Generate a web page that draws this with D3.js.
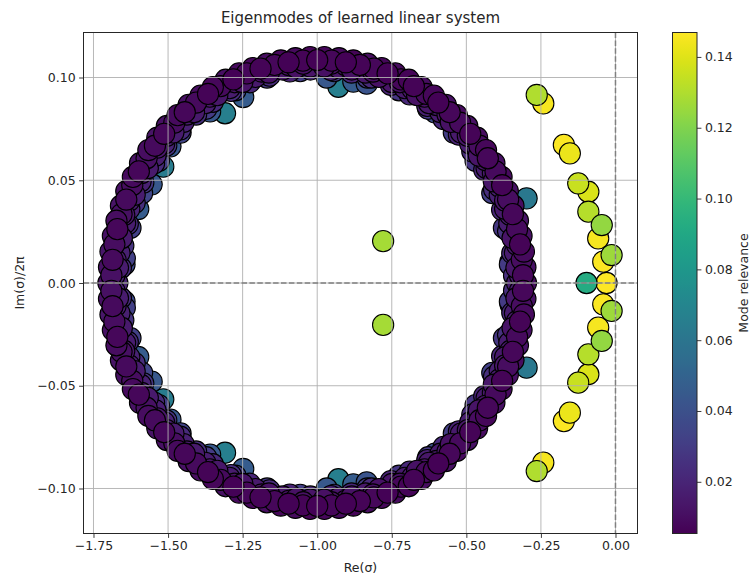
<!DOCTYPE html>
<html>
<head>
<meta charset="utf-8">
<script src="https://cdn.jsdelivr.net/npm/d3@7"></script>
<style>
  html, body { margin: 0; padding: 0; background: #ffffff; }
  svg { display: block; }
  text { font-family: "DejaVu Sans", sans-serif; fill: #262626; }
</style>
</head>
<body>
<svg id="chart" width="754" height="576"></svg>
<script>
// ---- eigenvalues: [Re(σ), Im(σ)/2π, mode relevance] ----

// outermost layer of the ring of weakly relevant modes
const ringOuterUpper = [
  [-0.300, 0.0000, 0.010], [-0.302, 0.0077, 0.012], [-0.307, 0.0153, 0.009], [-0.315, 0.0229, 0.011],
  [-0.327, 0.0303, 0.013], [-0.342, 0.0376, 0.010], [-0.361, 0.0447, 0.012], [-0.382, 0.0516, 0.009],
  [-0.406, 0.0583, 0.011], [-0.434, 0.0647, 0.008], [-0.464, 0.0707, 0.010], [-0.497, 0.0764, 0.012],
  [-0.532, 0.0817, 0.009], [-0.569, 0.0867, 0.011], [-0.609, 0.0912, 0.008], [-0.650, 0.0953, 0.010],
  [-0.693, 0.0989, 0.007], [-0.738, 0.1020, 0.009], [-0.784, 0.1046, 0.008], [-0.831, 0.1067, 0.010],
  [-0.879, 0.1083, 0.007], [-0.927, 0.1094, 0.009], [-0.976, 0.1099, 0.008], [-1.024, 0.1099, 0.007],
  [-1.073, 0.1094, 0.009], [-1.122, 0.1083, 0.008], [-1.169, 0.1067, 0.010], [-1.216, 0.1046, 0.008],
  [-1.262, 0.1020, 0.009], [-1.307, 0.0989, 0.011], [-1.350, 0.0953, 0.008], [-1.391, 0.0912, 0.010],
  [-1.431, 0.0867, 0.012], [-1.468, 0.0817, 0.009], [-1.504, 0.0764, 0.011], [-1.536, 0.0707, 0.013],
  [-1.566, 0.0647, 0.010], [-1.594, 0.0583, 0.012], [-1.618, 0.0516, 0.009], [-1.640, 0.0447, 0.011],
  [-1.658, 0.0376, 0.013], [-1.673, 0.0303, 0.010], [-1.685, 0.0229, 0.012], [-1.693, 0.0153, 0.014],
  [-1.698, 0.0077, 0.011], [-1.700, 0.0000, 0.012]
];
const ringOuterLower = [
  [-0.302, -0.0077, 0.012], [-0.307, -0.0153, 0.009], [-0.315, -0.0229, 0.011],
  [-0.327, -0.0303, 0.013], [-0.342, -0.0376, 0.010], [-0.361, -0.0447, 0.012], [-0.382, -0.0516, 0.009],
  [-0.406, -0.0583, 0.011], [-0.434, -0.0647, 0.008], [-0.464, -0.0707, 0.010], [-0.497, -0.0764, 0.012],
  [-0.532, -0.0817, 0.009], [-0.569, -0.0867, 0.011], [-0.609, -0.0912, 0.008], [-0.650, -0.0953, 0.010],
  [-0.693, -0.0989, 0.007], [-0.738, -0.1020, 0.009], [-0.784, -0.1046, 0.008], [-0.831, -0.1067, 0.010],
  [-0.879, -0.1083, 0.007], [-0.927, -0.1094, 0.009], [-0.976, -0.1099, 0.008], [-1.024, -0.1099, 0.007],
  [-1.073, -0.1094, 0.009], [-1.122, -0.1083, 0.008], [-1.169, -0.1067, 0.010], [-1.216, -0.1046, 0.008],
  [-1.262, -0.1020, 0.009], [-1.307, -0.0989, 0.011], [-1.350, -0.0953, 0.008], [-1.391, -0.0912, 0.010],
  [-1.431, -0.0867, 0.012], [-1.468, -0.0817, 0.009], [-1.504, -0.0764, 0.011], [-1.536, -0.0707, 0.013],
  [-1.566, -0.0647, 0.010], [-1.594, -0.0583, 0.012], [-1.618, -0.0516, 0.009], [-1.640, -0.0447, 0.011],
  [-1.658, -0.0376, 0.013], [-1.673, -0.0303, 0.010], [-1.685, -0.0229, 0.012], [-1.693, -0.0153, 0.014],
  [-1.698, -0.0077, 0.011]
];

// second layer, just inside the outer edge
const ringOuter2Upper = [
  [-0.310, 0.0038, 0.008], [-0.314, 0.0113, 0.010], [-0.320, 0.0188, 0.007], [-0.330, 0.0262, 0.009],
  [-0.344, 0.0335, 0.008], [-0.360, 0.0406, 0.010], [-0.380, 0.0476, 0.007], [-0.402, 0.0543, 0.009],
  [-0.428, 0.0607, 0.008], [-0.456, 0.0668, 0.010], [-0.487, 0.0726, 0.007], [-0.521, 0.0780, 0.009],
  [-0.556, 0.0831, 0.008], [-0.594, 0.0878, 0.006], [-0.634, 0.0920, 0.009], [-0.676, 0.0958, 0.007],
  [-0.719, 0.0991, 0.008], [-0.764, 0.1020, 0.006], [-0.810, 0.1043, 0.008], [-0.857, 0.1061, 0.007],
  [-0.904, 0.1074, 0.006], [-0.952, 0.1082, 0.008], [-1.000, 0.1085, 0.006], [-1.048, 0.1082, 0.007],
  [-1.096, 0.1074, 0.006], [-1.143, 0.1061, 0.008], [-1.190, 0.1043, 0.007], [-1.236, 0.1020, 0.008],
  [-1.281, 0.0991, 0.006], [-1.324, 0.0958, 0.009], [-1.366, 0.0920, 0.007], [-1.406, 0.0878, 0.009],
  [-1.444, 0.0831, 0.008], [-1.479, 0.0780, 0.010], [-1.513, 0.0726, 0.008], [-1.544, 0.0668, 0.009],
  [-1.572, 0.0607, 0.011], [-1.598, 0.0543, 0.008], [-1.620, 0.0476, 0.010], [-1.640, 0.0406, 0.009],
  [-1.656, 0.0335, 0.011], [-1.670, 0.0262, 0.008], [-1.680, 0.0188, 0.010], [-1.686, 0.0113, 0.009],
  [-1.690, 0.0038, 0.011]
];
const ringOuter2Lower = [
  [-0.310, -0.0038, 0.008], [-0.314, -0.0113, 0.010], [-0.320, -0.0188, 0.007], [-0.330, -0.0262, 0.009],
  [-0.344, -0.0335, 0.008], [-0.360, -0.0406, 0.010], [-0.380, -0.0476, 0.007], [-0.402, -0.0543, 0.009],
  [-0.428, -0.0607, 0.008], [-0.456, -0.0668, 0.010], [-0.487, -0.0726, 0.007], [-0.521, -0.0780, 0.009],
  [-0.556, -0.0831, 0.008], [-0.594, -0.0878, 0.006], [-0.634, -0.0920, 0.009], [-0.676, -0.0958, 0.007],
  [-0.719, -0.0991, 0.008], [-0.764, -0.1020, 0.006], [-0.810, -0.1043, 0.008], [-0.857, -0.1061, 0.007],
  [-0.904, -0.1074, 0.006], [-0.952, -0.1082, 0.008], [-1.000, -0.1085, 0.006], [-1.048, -0.1082, 0.007],
  [-1.096, -0.1074, 0.006], [-1.143, -0.1061, 0.008], [-1.190, -0.1043, 0.007], [-1.236, -0.1020, 0.008],
  [-1.281, -0.0991, 0.006], [-1.324, -0.0958, 0.009], [-1.366, -0.0920, 0.007], [-1.406, -0.0878, 0.009],
  [-1.444, -0.0831, 0.008], [-1.479, -0.0780, 0.010], [-1.513, -0.0726, 0.008], [-1.544, -0.0668, 0.009],
  [-1.572, -0.0607, 0.011], [-1.598, -0.0543, 0.008], [-1.620, -0.0476, 0.010], [-1.640, -0.0406, 0.009],
  [-1.656, -0.0335, 0.011], [-1.670, -0.0262, 0.008], [-1.680, -0.0188, 0.010], [-1.686, -0.0113, 0.009],
  [-1.690, -0.0038, 0.011]
];

// middle layer of the ring
const ringMidUpper = [
  [-0.320, 0.0037, 0.016], [-0.324, 0.0112, 0.018], [-0.330, 0.0186, 0.015], [-0.340, 0.0259, 0.019],
  [-0.353, 0.0331, 0.016], [-0.370, 0.0401, 0.014], [-0.389, 0.0469, 0.017], [-0.411, 0.0535, 0.015],
  [-0.436, 0.0598, 0.013], [-0.464, 0.0659, 0.016], [-0.495, 0.0716, 0.014], [-0.528, 0.0770, 0.017],
  [-0.563, 0.0820, 0.013], [-0.600, 0.0866, 0.015], [-0.640, 0.0907, 0.012], [-0.681, 0.0945, 0.014],
  [-0.723, 0.0977, 0.012], [-0.767, 0.1005, 0.013], [-0.813, 0.1029, 0.011], [-0.859, 0.1047, 0.014],
  [-0.905, 0.1060, 0.012], [-0.953, 0.1067, 0.011], [-1.000, 0.1070, 0.013], [-1.047, 0.1067, 0.011],
  [-1.095, 0.1060, 0.012], [-1.141, 0.1047, 0.014], [-1.187, 0.1029, 0.012], [-1.233, 0.1005, 0.015],
  [-1.277, 0.0977, 0.013], [-1.319, 0.0945, 0.016], [-1.360, 0.0907, 0.014], [-1.400, 0.0866, 0.017],
  [-1.437, 0.0820, 0.015], [-1.472, 0.0770, 0.018], [-1.505, 0.0716, 0.016], [-1.536, 0.0659, 0.014],
  [-1.564, 0.0598, 0.017], [-1.589, 0.0535, 0.015], [-1.611, 0.0469, 0.018], [-1.630, 0.0401, 0.016],
  [-1.647, 0.0331, 0.014], [-1.660, 0.0259, 0.017], [-1.670, 0.0186, 0.019], [-1.676, 0.0112, 0.016],
  [-1.680, 0.0037, 0.018]
];
const ringMidLower = [
  [-0.320, -0.0037, 0.016], [-0.324, -0.0112, 0.018], [-0.330, -0.0186, 0.015], [-0.340, -0.0259, 0.019],
  [-0.353, -0.0331, 0.016], [-0.370, -0.0401, 0.014], [-0.389, -0.0469, 0.017], [-0.411, -0.0535, 0.015],
  [-0.436, -0.0598, 0.013], [-0.464, -0.0659, 0.016], [-0.495, -0.0716, 0.014], [-0.528, -0.0770, 0.017],
  [-0.563, -0.0820, 0.013], [-0.600, -0.0866, 0.015], [-0.640, -0.0907, 0.012], [-0.681, -0.0945, 0.014],
  [-0.723, -0.0977, 0.012], [-0.767, -0.1005, 0.013], [-0.813, -0.1029, 0.011], [-0.859, -0.1047, 0.014],
  [-0.905, -0.1060, 0.012], [-0.953, -0.1067, 0.011], [-1.000, -0.1070, 0.013], [-1.047, -0.1067, 0.011],
  [-1.095, -0.1060, 0.012], [-1.141, -0.1047, 0.014], [-1.187, -0.1029, 0.012], [-1.233, -0.1005, 0.015],
  [-1.277, -0.0977, 0.013], [-1.319, -0.0945, 0.016], [-1.360, -0.0907, 0.014], [-1.400, -0.0866, 0.017],
  [-1.437, -0.0820, 0.015], [-1.472, -0.0770, 0.018], [-1.505, -0.0716, 0.016], [-1.536, -0.0659, 0.014],
  [-1.564, -0.0598, 0.017], [-1.589, -0.0535, 0.015], [-1.611, -0.0469, 0.018], [-1.630, -0.0401, 0.016],
  [-1.647, -0.0331, 0.014], [-1.660, -0.0259, 0.017], [-1.670, -0.0186, 0.019], [-1.676, -0.0112, 0.016],
  [-1.680, -0.0037, 0.018]
];

// layer between the middle and the inner edge
const ringMid2Upper = [
  [-0.330, 0.0000, 0.017], [-0.332, 0.0074, 0.014], [-0.337, 0.0147, 0.016], [-0.345, 0.0219, 0.013],
  [-0.356, 0.0291, 0.017], [-0.370, 0.0361, 0.015], [-0.388, 0.0429, 0.018], [-0.408, 0.0495, 0.014],
  [-0.432, 0.0559, 0.016], [-0.458, 0.0620, 0.013], [-0.487, 0.0678, 0.017], [-0.518, 0.0733, 0.015],
  [-0.552, 0.0784, 0.012], [-0.587, 0.0831, 0.016], [-0.625, 0.0875, 0.014], [-0.665, 0.0914, 0.012],
  [-0.706, 0.0948, 0.015], [-0.749, 0.0978, 0.013], [-0.793, 0.1003, 0.012], [-0.838, 0.1024, 0.014],
  [-0.884, 0.1039, 0.012], [-0.930, 0.1049, 0.013], [-0.977, 0.1054, 0.011], [-1.023, 0.1054, 0.013],
  [-1.070, 0.1049, 0.012], [-1.116, 0.1039, 0.014], [-1.162, 0.1024, 0.012], [-1.207, 0.1003, 0.015],
  [-1.251, 0.0978, 0.013], [-1.294, 0.0948, 0.016], [-1.335, 0.0914, 0.014], [-1.375, 0.0875, 0.017],
  [-1.413, 0.0831, 0.015], [-1.448, 0.0784, 0.018], [-1.482, 0.0733, 0.016], [-1.513, 0.0678, 0.019],
  [-1.542, 0.0620, 0.017], [-1.568, 0.0559, 0.015], [-1.592, 0.0495, 0.018], [-1.612, 0.0429, 0.016],
  [-1.630, 0.0361, 0.019], [-1.644, 0.0291, 0.017], [-1.655, 0.0219, 0.015], [-1.663, 0.0147, 0.018],
  [-1.668, 0.0074, 0.016], [-1.670, 0.0000, 0.019]
];
const ringMid2Lower = [
  [-0.332, -0.0074, 0.014], [-0.337, -0.0147, 0.016], [-0.345, -0.0219, 0.013],
  [-0.356, -0.0291, 0.017], [-0.370, -0.0361, 0.015], [-0.388, -0.0429, 0.018], [-0.408, -0.0495, 0.014],
  [-0.432, -0.0559, 0.016], [-0.458, -0.0620, 0.013], [-0.487, -0.0678, 0.017], [-0.518, -0.0733, 0.015],
  [-0.552, -0.0784, 0.012], [-0.587, -0.0831, 0.016], [-0.625, -0.0875, 0.014], [-0.665, -0.0914, 0.012],
  [-0.706, -0.0948, 0.015], [-0.749, -0.0978, 0.013], [-0.793, -0.1003, 0.012], [-0.838, -0.1024, 0.014],
  [-0.884, -0.1039, 0.012], [-0.930, -0.1049, 0.013], [-0.977, -0.1054, 0.011], [-1.023, -0.1054, 0.013],
  [-1.070, -0.1049, 0.012], [-1.116, -0.1039, 0.014], [-1.162, -0.1024, 0.012], [-1.207, -0.1003, 0.015],
  [-1.251, -0.0978, 0.013], [-1.294, -0.0948, 0.016], [-1.335, -0.0914, 0.014], [-1.375, -0.0875, 0.017],
  [-1.413, -0.0831, 0.015], [-1.448, -0.0784, 0.018], [-1.482, -0.0733, 0.016], [-1.513, -0.0678, 0.019],
  [-1.542, -0.0620, 0.017], [-1.568, -0.0559, 0.015], [-1.592, -0.0495, 0.018], [-1.612, -0.0429, 0.016],
  [-1.630, -0.0361, 0.019], [-1.644, -0.0291, 0.017], [-1.655, -0.0219, 0.015], [-1.663, -0.0147, 0.018],
  [-1.668, -0.0074, 0.016]
];

// inner layer of the ring
const ringInnerUpper = [
  [-0.340, 0.0036, 0.024], [-0.346, 0.0145, 0.022], [-0.360, 0.0252, 0.026], [-0.380, 0.0356, 0.021],
  [-0.407, 0.0456, 0.024], [-0.440, 0.0551, 0.020], [-0.480, 0.0640, 0.023], [-0.525, 0.0722, 0.019],
  [-0.576, 0.0797, 0.022], [-0.631, 0.0862, 0.018], [-0.690, 0.0918, 0.021], [-0.753, 0.0964, 0.019],
  [-0.818, 0.1000, 0.022], [-0.885, 0.1024, 0.020], [-0.954, 0.1037, 0.018], [-1.023, 0.1039, 0.021],
  [-1.092, 0.1030, 0.019], [-1.160, 0.1009, 0.023], [-1.226, 0.0977, 0.020], [-1.289, 0.0935, 0.024],
  [-1.350, 0.0882, 0.021], [-1.406, 0.0820, 0.025], [-1.459, 0.0748, 0.022], [-1.506, 0.0669, 0.026],
  [-1.547, 0.0582, 0.023], [-1.583, 0.0488, 0.027], [-1.612, 0.0390, 0.024], [-1.635, 0.0287, 0.022],
  [-1.650, 0.0181, 0.026], [-1.658, 0.0073, 0.023]
];
const ringInnerLower = [
  [-0.340, -0.0036, 0.024], [-0.346, -0.0145, 0.022], [-0.360, -0.0252, 0.026], [-0.380, -0.0356, 0.021],
  [-0.407, -0.0456, 0.024], [-0.440, -0.0551, 0.020], [-0.480, -0.0640, 0.023], [-0.525, -0.0722, 0.019],
  [-0.576, -0.0797, 0.022], [-0.631, -0.0862, 0.018], [-0.690, -0.0918, 0.021], [-0.753, -0.0964, 0.019],
  [-0.818, -0.1000, 0.022], [-0.885, -0.1024, 0.020], [-0.954, -0.1037, 0.018], [-1.023, -0.1039, 0.021],
  [-1.092, -0.1030, 0.019], [-1.160, -0.1009, 0.023], [-1.226, -0.0977, 0.020], [-1.289, -0.0935, 0.024],
  [-1.350, -0.0882, 0.021], [-1.406, -0.0820, 0.025], [-1.459, -0.0748, 0.022], [-1.506, -0.0669, 0.026],
  [-1.547, -0.0582, 0.023], [-1.583, -0.0488, 0.027], [-1.612, -0.0390, 0.024], [-1.635, -0.0287, 0.022],
  [-1.650, -0.0181, 0.026], [-1.658, -0.0073, 0.023]
];

// innermost edge of the ring
const ringEdgeUpper = [
  [-0.354, 0.0090, 0.030], [-0.374, 0.0268, 0.028], [-0.413, 0.0437, 0.032], [-0.469, 0.0594, 0.027],
  [-0.542, 0.0732, 0.031], [-0.628, 0.0848, 0.029], [-0.726, 0.0938, 0.027], [-0.832, 0.1000, 0.030],
  [-0.943, 0.1031, 0.028], [-1.057, 0.1031, 0.031], [-1.168, 0.1000, 0.029], [-1.274, 0.0938, 0.033],
  [-1.372, 0.0848, 0.030], [-1.458, 0.0732, 0.034], [-1.531, 0.0594, 0.031], [-1.587, 0.0437, 0.035],
  [-1.626, 0.0268, 0.032], [-1.646, 0.0090, 0.036]
];
const ringEdgeLower = [
  [-0.354, -0.0090, 0.030], [-0.374, -0.0268, 0.028], [-0.413, -0.0437, 0.032], [-0.469, -0.0594, 0.027],
  [-0.542, -0.0732, 0.031], [-0.628, -0.0848, 0.029], [-0.726, -0.0938, 0.027], [-0.832, -0.1000, 0.030],
  [-0.943, -0.1031, 0.028], [-1.057, -0.1031, 0.031], [-1.168, -0.1000, 0.029], [-1.274, -0.0938, 0.033],
  [-1.372, -0.0848, 0.030], [-1.458, -0.0732, 0.034], [-1.531, -0.0594, 0.031], [-1.587, -0.0437, 0.035],
  [-1.626, -0.0268, 0.032], [-1.646, -0.0090, 0.036]
];

// moderately relevant modes sitting just inside the ring
const ringBlueModes = [
  [-1.309, 0.0826, 0.066], [-1.359, 0.0835, 0.044], [-1.248, 0.0905, 0.046], [-0.968, 0.1000, 0.044],
  [-0.929, 0.0955, 0.066], [-0.879, 0.0980, 0.046], [-0.834, 0.0970, 0.042], [-1.516, 0.0566, 0.064],
  [-1.492, 0.0665, 0.044], [-1.555, 0.0480, 0.044], [-1.600, 0.0360, 0.046], [-0.298, 0.0412, 0.062],
  [-0.352, 0.0104, 0.040], [-0.605, 0.0830, 0.040], [-1.645, 0.0120, 0.032],
  [-1.309, -0.0826, 0.066], [-1.359, -0.0835, 0.044], [-1.248, -0.0905, 0.046], [-0.968, -0.1000, 0.044],
  [-0.929, -0.0955, 0.066], [-0.879, -0.0980, 0.046], [-0.834, -0.0970, 0.042], [-1.516, -0.0566, 0.064],
  [-1.492, -0.0665, 0.044], [-1.555, -0.0480, 0.044], [-1.600, -0.0360, 0.046], [-0.298, -0.0412, 0.062],
  [-0.352, -0.0104, 0.040], [-0.605, -0.0830, 0.040], [-1.645, -0.0120, 0.032]
];

// isolated oscillatory pair inside the ring
const innerPair = [
  [-0.779, 0.0204, 0.128], [-0.779, -0.0204, 0.128]
];

// fast, highly relevant modes near the imaginary axis
const nearAxisModes = [
  [-0.264, 0.0915, 0.130], [-0.242, 0.0874, 0.145], [-0.173, 0.0672, 0.146], [-0.153, 0.0631, 0.143],
  [-0.125, 0.0485, 0.135], [-0.091, 0.0444, 0.139], [-0.091, 0.0347, 0.131], [-0.046, 0.0282, 0.124],
  [-0.058, 0.0217, 0.145], [-0.013, 0.0136, 0.126], [-0.041, 0.0104, 0.146],
  [-0.097, 0.0000, 0.092], [-0.030, 0.0000, 0.147],
  [-0.264, -0.0915, 0.130], [-0.242, -0.0874, 0.145], [-0.173, -0.0672, 0.146], [-0.153, -0.0631, 0.143],
  [-0.125, -0.0485, 0.135], [-0.091, -0.0444, 0.139], [-0.091, -0.0347, 0.131], [-0.046, -0.0282, 0.124],
  [-0.058, -0.0217, 0.145], [-0.013, -0.0136, 0.126], [-0.041, -0.0104, 0.146]
];

// axis ticks
const xTicks = [-1.75, -1.50, -1.25, -1.00, -0.75, -0.50, -0.25, 0.00];
const yTicks = [-0.10, -0.05, 0.00, 0.05, 0.10];
const cbarTicks = [0.02, 0.04, 0.06, 0.08, 0.10, 0.12, 0.14];

// limits
const xDomain = [-1.7835, 0.0738];
const yDomain = [-0.1219, 0.1219];
const relDomain = [0.0054, 0.1469];

// ---------------------------------------------------------------
const svg = d3.select("#chart");
const plot = { left: 83.5, right: 637.5, top: 32.5, bottom: 533.5 };
const cbar = { left: 672.5, right: 697, top: 32.5, bottom: 533.5 };

const x = d3.scaleLinear().domain(xDomain).range([plot.left, plot.right]);
const y = d3.scaleLinear().domain(yDomain).range([plot.bottom, plot.top]);
const color = d3.scaleSequential(d3.interpolateViridis).domain(relDomain);
const fmt = d3.format(".2f");

const modes = [].concat(
  ringOuterUpper, ringOuterLower, ringOuter2Upper, ringOuter2Lower,
  ringMidUpper, ringMidLower, ringMid2Upper, ringMid2Lower,
  ringInnerUpper, ringInnerLower, ringEdgeUpper, ringEdgeLower,
  ringBlueModes, innerPair, nearAxisModes
).map(d => ({ re: d[0], im: d[1], rel: d[2] }));

// most relevant drawn first so the weak modes sit on top
modes.sort((a, b) => b.rel - a.rel);

svg.append("defs").append("clipPath").attr("id", "plot-clip")
  .append("rect")
  .attr("x", plot.left).attr("y", plot.top)
  .attr("width", plot.right - plot.left).attr("height", plot.bottom - plot.top);

// scatter
svg.append("g").attr("clip-path", "url(#plot-clip)")
  .selectAll("circle").data(modes).join("circle")
  .attr("cx", d => x(d.re))
  .attr("cy", d => y(d.im))
  .attr("r", 10.6)
  .attr("fill", d => color(d.rel))
  .attr("stroke", "#000")
  .attr("stroke-width", 1.1);

// grid
const grid = svg.append("g");
grid.selectAll("line.gx").data(xTicks).join("line")
  .attr("x1", d => x(d)).attr("x2", d => x(d))
  .attr("y1", plot.top).attr("y2", plot.bottom)
  .attr("stroke", "#b0b0b0").attr("stroke-width", 0.9);
grid.selectAll("line.gy").data(yTicks).join("line")
  .attr("x1", plot.left).attr("x2", plot.right)
  .attr("y1", d => y(d)).attr("y2", d => y(d))
  .attr("stroke", "#b0b0b0").attr("stroke-width", 0.9);

// reference lines through the origin
svg.append("line")
  .attr("x1", plot.left).attr("x2", plot.right)
  .attr("y1", y(0)).attr("y2", y(0))
  .attr("stroke", "#808080").attr("stroke-width", 1.5)
  .attr("stroke-dasharray", "5.5,2.4");
svg.append("line")
  .attr("x1", x(0)).attr("x2", x(0))
  .attr("y1", plot.top).attr("y2", plot.bottom)
  .attr("stroke", "#808080").attr("stroke-width", 1.5)
  .attr("stroke-dasharray", "5.5,2.4");

// axes
const xAxis = svg.append("g")
  .attr("transform", `translate(0,${plot.bottom})`)
  .call(d3.axisBottom(x).tickValues(xTicks).tickFormat(fmt).tickSize(4.4).tickPadding(3.5));
const yAxis = svg.append("g")
  .attr("transform", `translate(${plot.left},0)`)
  .call(d3.axisLeft(y).tickValues(yTicks).tickFormat(fmt).tickSize(4.4).tickPadding(3.5));
[xAxis, yAxis].forEach(g => {
  g.select(".domain").remove();
  g.selectAll(".tick line").attr("stroke", "#262626").attr("stroke-width", 0.9);
  g.selectAll(".tick text").style("font-size", "12.5px").style("font-family", "DejaVu Sans").attr("fill", "#262626");
});

// spines
svg.append("rect")
  .attr("x", plot.left).attr("y", plot.top)
  .attr("width", plot.right - plot.left).attr("height", plot.bottom - plot.top)
  .attr("fill", "none").attr("stroke", "#262626").attr("stroke-width", 1);

// titles
svg.append("text")
  .attr("x", (plot.left + plot.right) / 2).attr("y", 22.5)
  .attr("text-anchor", "middle").style("font-size", "15px")
  .text("Eigenmodes of learned linear system");
svg.append("text")
  .attr("x", (plot.left + plot.right) / 2).attr("y", 571.5)
  .attr("text-anchor", "middle").style("font-size", "12.5px")
  .text("Re(σ)");
svg.append("text")
  .attr("transform", `translate(24,${(plot.top + plot.bottom) / 2}) rotate(-90)`)
  .attr("text-anchor", "middle").style("font-size", "12.5px")
  .text("Im(σ)/2π");

// colorbar
const cy = d3.scaleLinear().domain(relDomain).range([cbar.bottom, cbar.top]);
const grad = svg.select("defs").append("linearGradient")
  .attr("id", "viridis-grad").attr("x1", 0).attr("y1", 1).attr("x2", 0).attr("y2", 0);
d3.range(0, 1.0001, 0.02).forEach(t => {
  grad.append("stop").attr("offset", t)
    .attr("stop-color", d3.interpolateViridis(t));
});
svg.append("rect")
  .attr("x", cbar.left).attr("y", cbar.top)
  .attr("width", cbar.right - cbar.left).attr("height", cbar.bottom - cbar.top)
  .attr("fill", "url(#viridis-grad)")
  .attr("stroke", "#262626").attr("stroke-width", 1);
const cAxis = svg.append("g")
  .attr("transform", `translate(${cbar.right},0)`)
  .call(d3.axisRight(cy).tickValues(cbarTicks).tickFormat(fmt).tickSize(4.4).tickPadding(3.5));
cAxis.select(".domain").remove();
cAxis.selectAll(".tick line").attr("stroke", "#262626").attr("stroke-width", 0.9);
cAxis.selectAll(".tick text").style("font-size", "12.5px").style("font-family", "DejaVu Sans").attr("fill", "#262626");
svg.append("text")
  .attr("transform", `translate(748,${(cbar.top + cbar.bottom) / 2}) rotate(-90)`)
  .attr("text-anchor", "middle").style("font-size", "12.5px")
  .text("Mode relevance");
</script>
</body>
</html>
